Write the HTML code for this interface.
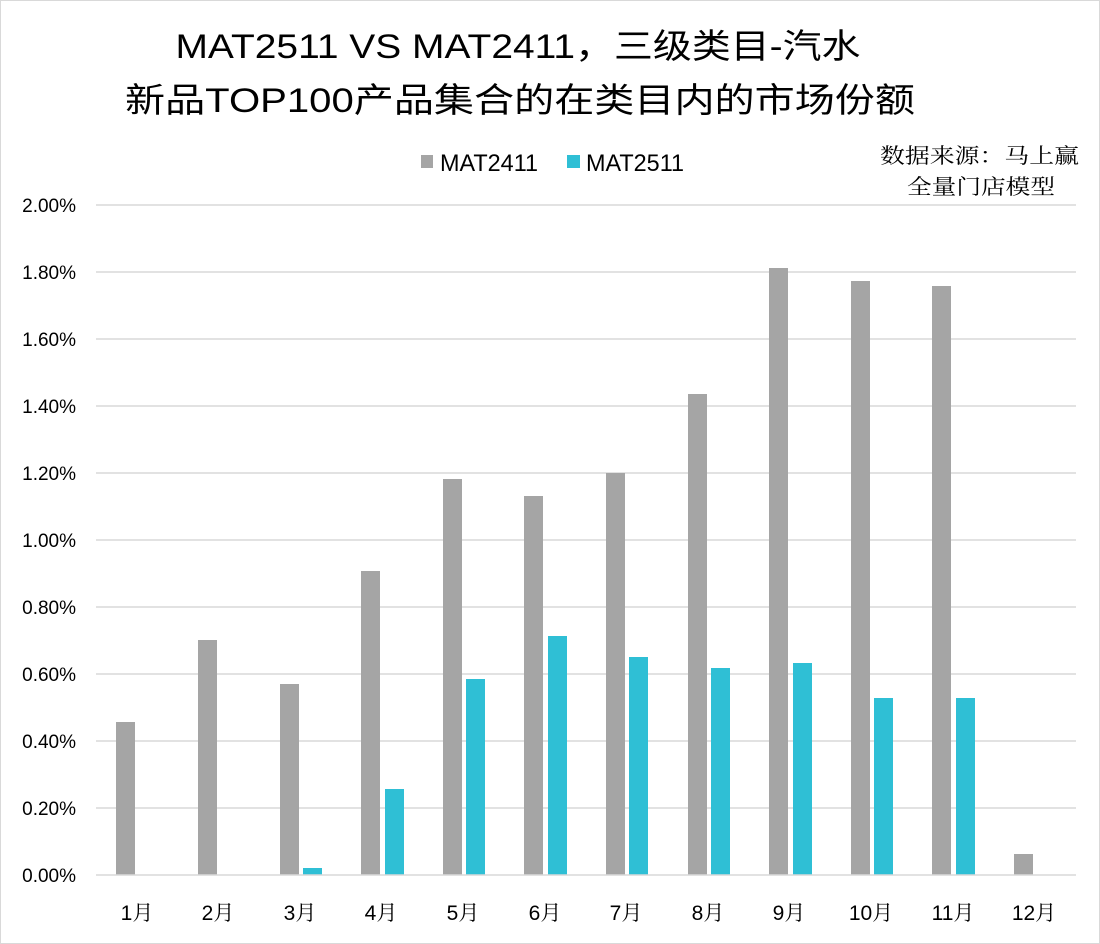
<!DOCTYPE html>
<html><head><meta charset="utf-8"><style>
html,body{margin:0;padding:0;background:#fff}
svg{display:block}
</style></head><body>
<svg width="1100" height="944" xmlns="http://www.w3.org/2000/svg">
<rect x="0.5" y="0.5" width="1099" height="943" fill="#fff" stroke="#d9d9d9" stroke-width="1"/>
<g font-family="'Liberation Sans','Noto Sans CJK SC',sans-serif" fill="#000">
<text x="518" y="58" font-size="34" text-anchor="middle" textLength="685" lengthAdjust="spacingAndGlyphs">MAT2511 VS MAT2411，三级类目-汽水</text>
<text x="520" y="112" font-size="34" text-anchor="middle" textLength="790" lengthAdjust="spacingAndGlyphs">新品TOP100产品集合的在类目内的市场份额</text>
<rect x="421" y="155" width="12" height="13" fill="#a5a5a5"/>
<text x="440" y="171" font-size="24" textLength="98" lengthAdjust="spacingAndGlyphs">MAT2411</text>
<rect x="567" y="155" width="13" height="13" fill="#2fbfd5"/>
<text x="586" y="171" font-size="24" textLength="98" lengthAdjust="spacingAndGlyphs">MAT2511</text>
</g>
<g font-family="'Liberation Serif','Noto Serif CJK SC',serif" font-size="21" fill="#000">
<text x="880" y="163" textLength="199" lengthAdjust="spacingAndGlyphs">数据来源：马上赢</text>
<text x="907" y="194" textLength="148" lengthAdjust="spacingAndGlyphs">全量门店模型</text>
</g>
<g stroke="#d9d9d9" stroke-width="1.5">
<line x1="96" x2="1076" y1="205" y2="205"/><line x1="96" x2="1076" y1="272" y2="272"/>
<line x1="96" x2="1076" y1="339" y2="339"/><line x1="96" x2="1076" y1="406" y2="406"/>
<line x1="96" x2="1076" y1="473" y2="473"/><line x1="96" x2="1076" y1="540" y2="540"/>
<line x1="96" x2="1076" y1="607" y2="607"/><line x1="96" x2="1076" y1="674" y2="674"/>
<line x1="96" x2="1076" y1="741" y2="741"/><line x1="96" x2="1076" y1="808" y2="808"/>
</g>
<g font-family="'Liberation Sans',sans-serif" font-size="19" fill="#000" text-anchor="end">
<text x="76" y="212">2.00%</text><text x="76" y="279">1.80%</text><text x="76" y="346">1.60%</text>
<text x="76" y="413">1.40%</text><text x="76" y="480">1.20%</text><text x="76" y="547">1.00%</text>
<text x="76" y="614">0.80%</text><text x="76" y="681">0.60%</text><text x="76" y="748">0.40%</text>
<text x="76" y="815">0.20%</text><text x="76" y="882">0.00%</text>
</g>
<g fill="#a5a5a5">
<rect x="116" y="722" width="19" height="153"/>
<rect x="198" y="640" width="19" height="235"/>
<rect x="280" y="684" width="19" height="191"/>
<rect x="361" y="571" width="19" height="304"/>
<rect x="443" y="479" width="19" height="396"/>
<rect x="524" y="496" width="19" height="379"/>
<rect x="606" y="473" width="19" height="402"/>
<rect x="688" y="394" width="19" height="481"/>
<rect x="769" y="268" width="19" height="607"/>
<rect x="851" y="281" width="19" height="594"/>
<rect x="932" y="286" width="19" height="589"/>
<rect x="1014" y="854" width="19" height="21"/>
</g>
<g fill="#2fbfd5">
<rect x="303" y="868" width="19" height="7"/>
<rect x="385" y="789" width="19" height="86"/>
<rect x="466" y="679" width="19" height="196"/>
<rect x="548" y="636" width="19" height="239"/>
<rect x="629" y="657" width="19" height="218"/>
<rect x="711" y="668" width="19" height="207"/>
<rect x="793" y="663" width="19" height="212"/>
<rect x="874" y="698" width="19" height="177"/>
<rect x="956" y="698" width="19" height="177"/>
</g>
<line x1="96" x2="1076" y1="875" y2="875" stroke="#d9d9d9" stroke-width="1.5"/>
<g font-family="'Liberation Sans','Noto Serif CJK SC',sans-serif" font-size="21" fill="#000" text-anchor="middle">
<text x="137" y="920">1月</text><text x="218" y="920">2月</text><text x="300" y="920">3月</text>
<text x="381" y="920">4月</text><text x="463" y="920">5月</text><text x="545" y="920">6月</text>
<text x="626" y="920">7月</text><text x="708" y="920">8月</text><text x="789" y="920">9月</text>
<text x="871" y="920">10月</text><text x="953" y="920">11月</text><text x="1034" y="920">12月</text>
</g>
</svg>
</body></html>
